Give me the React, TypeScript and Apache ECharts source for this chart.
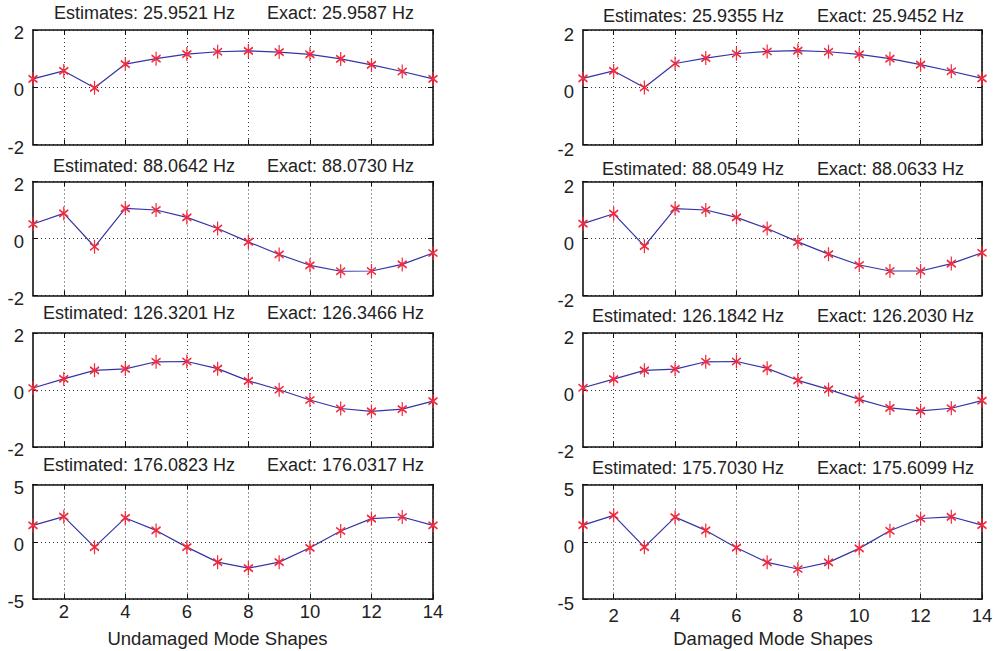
import React, { useEffect, useRef } from "react";
import * as echarts from "echarts";

const NODES = [1, 2, 3, 4, 5, 6, 7, 8, 9, 10, 11, 12, 13, 14];
const X_TICKS = [2, 4, 6, 8, 10, 12, 14];

const undamagedMode1 = [0.29, 0.57, -0.02, 0.81, 1.0, 1.16, 1.24, 1.27, 1.23, 1.15, 0.99, 0.78, 0.55, 0.29];
const undamagedMode2 = [0.51, 0.88, -0.29, 1.06, 1.0, 0.74, 0.35, -0.12, -0.56, -0.94, -1.15, -1.14, -0.91, -0.51];
const undamagedMode3 = [0.07, 0.39, 0.69, 0.74, 0.99, 1.0, 0.75, 0.32, 0.01, -0.35, -0.65, -0.75, -0.67, -0.39];
const undamagedMode4 = [1.43, 2.19, -0.47, 2.08, 0.99, -0.47, -1.78, -2.31, -1.78, -0.53, 0.94, 2.02, 2.16, 1.43];

const damagedMode1 = [0.31, 0.57, -0.01, 0.83, 1.02, 1.17, 1.25, 1.28, 1.24, 1.15, 1.0, 0.79, 0.56, 0.31];
const damagedMode2 = [0.52, 0.87, -0.27, 1.05, 1.0, 0.74, 0.35, -0.12, -0.55, -0.93, -1.14, -1.14, -0.88, -0.5];
const damagedMode3 = [0.08, 0.38, 0.69, 0.73, 0.99, 1.0, 0.76, 0.34, 0.02, -0.33, -0.63, -0.73, -0.64, -0.37];
const damagedMode4 = [1.45, 2.3, -0.47, 2.15, 0.99, -0.52, -1.8, -2.38, -1.8, -0.58, 0.96, 2.03, 2.18, 1.45];

const estimateLabels = ["Estimates:", "Estimated:", "Estimated:", "Estimated:"];
const undamagedEstimated = ["25.9521", "88.0642", "126.3201", "176.0823"];
const undamagedExact = ["25.9587", "88.0730", "126.3466", "176.0317"];
const damagedEstimated = ["25.9355", "88.0549", "126.1842", "175.7030"];
const damagedExact = ["25.9452", "88.0633", "126.2030", "175.6099"];

const yLimits = [2, 2, 2, 5];
const columnNames = ["Undamaged Mode Shapes", "Damaged Mode Shapes"];

const FONT = "'Liberation Sans', Arial, Helvetica, sans-serif";
const FS = 18.5;
const TITLE_FS = 18;
const TEXT = "#222";
const AXIS = "#111";
const LINE_BLUE = "#3434a6";
const MARK_RED = "#f22a3c";
const ASTERISK = "path://M4 0 L4 10 M0 2.5 L8 7.5 M0 7.5 L8 2.5";

const COLS = [
  { left: 33, width: 400, estRight: 235, exactLeft: 267, titleDy: 0, yPad: 5, xMargin: 3, nameX: 217.5 },
  { left: 583, width: 399, estRight: 784, exactLeft: 817, titleDy: 3, yPad: 9, xMargin: 7, nameX: 773 },
];
const ROWS = [
  { top: 30, height: 114.5, titleY: 13 },
  { top: 181.5, height: 114, titleY: 166 },
  { top: 333, height: 114, titleY: 313 },
  { top: 484.5, height: 114.5, titleY: 465 },
];

export default function App() {
  const ref = useRef<HTMLDivElement>(null);

  useEffect(() => {
    if (!ref.current) return;
    const chart = echarts.init(ref.current, undefined, { renderer: "svg" });

    const modes = [
      [undamagedMode1, undamagedMode2, undamagedMode3, undamagedMode4],
      [damagedMode1, damagedMode2, damagedMode3, damagedMode4],
    ];
    const estimates = [undamagedEstimated, damagedEstimated];
    const exacts = [undamagedExact, damagedExact];

    const grid: any[] = [];
    const xAxis: any[] = [];
    const yAxis: any[] = [];
    const series: any[] = [];
    const graphic: any[] = [];

    const frameLine = { show: true, onZero: false, lineStyle: { color: AXIS, width: 1.6 } };
    const innerTick = { show: true, inside: true, length: 5, lineStyle: { color: AXIS, width: 1 } };
    const dotted = { show: true, lineStyle: { color: "#333", width: 1, type: [1, 3] } };

    COLS.forEach((col, c) => {
      ROWS.forEach((row, r) => {
        const g = grid.length;
        grid.push({
          left: col.left,
          top: row.top,
          width: col.width,
          height: row.height,
          containLabel: false,
          outerBoundsMode: "none",
          show: false,
        });
        const lim = yLimits[r];
        const isBottom = r === ROWS.length - 1;
        const xb = xAxis.length;
        xAxis.push({
          type: "value",
          gridIndex: g,
          position: "bottom",
          min: 1,
          max: 14,
          axisLine: frameLine,
          axisTick: { ...innerTick, customValues: X_TICKS },
          axisLabel: {
            show: isBottom,
            customValues: X_TICKS,
            margin: col.xMargin,
            color: TEXT,
            fontSize: FS,
            fontFamily: FONT,
          },
          splitLine: dotted,
        });
        xAxis.push({
          type: "value",
          gridIndex: g,
          position: "top",
          min: 1,
          max: 14,
          axisLine: frameLine,
          axisTick: { ...innerTick, customValues: X_TICKS },
          axisLabel: { show: false, customValues: X_TICKS },
          splitLine: { show: false },
        });
        const yl = yAxis.length;
        yAxis.push({
          type: "value",
          gridIndex: g,
          position: "left",
          min: -lim,
          max: lim,
          interval: lim,
          axisLine: frameLine,
          axisTick: innerTick,
          axisLabel: {
            show: true,
            margin: 9,
            formatter: "{v|{value}}",
            rich: {
              v: {
                color: TEXT,
                fontSize: FS,
                fontFamily: FONT,
                padding: [col.yPad, 0, 0, 0],
              },
            },
          },
          splitLine: dotted,
        });
        yAxis.push({
          type: "value",
          gridIndex: g,
          position: "right",
          min: -lim,
          max: lim,
          interval: lim,
          axisLine: frameLine,
          axisTick: innerTick,
          axisLabel: { show: false },
          splitLine: { show: false },
        });

        const vals = modes[c][r];
        series.push({
          type: "line",
          xAxisIndex: xb,
          yAxisIndex: yl,
          data: NODES.map((n, i) => [n, vals[i]]),
          clip: false,
          symbol: ASTERISK,
          symbolSize: [9, 14],
          showSymbol: true,
          lineStyle: { color: LINE_BLUE, width: 1.2 },
          itemStyle: { color: MARK_RED, borderColor: MARK_RED, borderWidth: 1.5 },
          z: 3,
        });

        const ty = row.titleY + col.titleDy;
        graphic.push({
          type: "text",
          x: col.estRight,
          y: ty,
          style: {
            text: `${estimateLabels[r]} ${estimates[c][r]} Hz`,
            fill: TEXT,
            fontSize: TITLE_FS,
            fontFamily: FONT,
            textAlign: "right",
            verticalAlign: "middle",
            textVerticalAlign: "middle",
          },
        });
        graphic.push({
          type: "text",
          x: col.exactLeft,
          y: ty,
          style: {
            text: `Exact: ${exacts[c][r]} Hz`,
            fill: TEXT,
            fontSize: TITLE_FS,
            fontFamily: FONT,
            textAlign: "left",
            verticalAlign: "middle",
            textVerticalAlign: "middle",
          },
        });
      });
      graphic.push({
        type: "text",
        x: col.nameX,
        y: 638,
        style: {
          text: columnNames[c],
          fill: TEXT,
          fontSize: FS,
          fontFamily: FONT,
          textAlign: "center",
          verticalAlign: "middle",
          textVerticalAlign: "middle",
        },
      });
    });

    chart.setOption({
      animation: false,
      backgroundColor: "#ffffff",
      grid,
      xAxis,
      yAxis,
      series,
      graphic,
    });

    return () => {
      chart.dispose();
    };
  }, []);

  return (
    <div
      ref={ref}
      style={{ position: "fixed", left: 0, top: 0, width: 994, height: 651, background: "#fff" }}
    />
  );
}
